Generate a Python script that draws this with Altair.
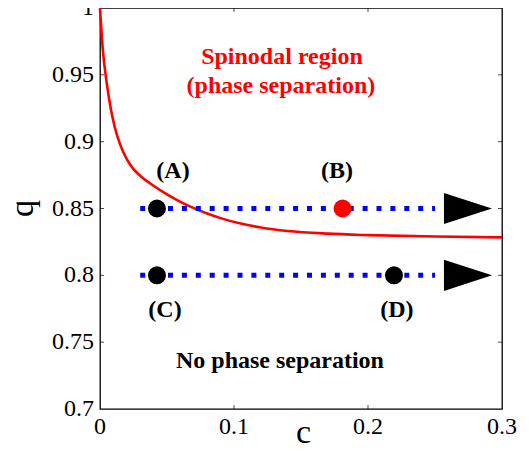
import altair as alt
import pandas as pd

# Spinodal curve (c, q)
curve_c = [0.0, 0.002, 0.005, 0.008, 0.011, 0.015, 0.02, 0.025, 0.03, 0.04, 0.05, 0.06, 0.07, 0.08, 0.09, 0.105, 0.12, 0.14, 0.17, 0.2, 0.25, 0.3]
curve_q = [1.0, 0.970, 0.944, 0.925, 0.911, 0.898, 0.887, 0.8795, 0.8745, 0.867, 0.8605, 0.855, 0.8503, 0.8463, 0.8428, 0.8387, 0.8358, 0.8332, 0.8312, 0.8301, 0.8290, 0.8284]

# Dotted paths
path_q = [0.85, 0.80]
path_c_start = [0.03, 0.03]
path_c_end = [0.25, 0.25]

# Arrow heads
arrow_c = [0.2746, 0.2746]
arrow_q = [0.85, 0.80]

# State points
pt_name = ["A", "B", "C", "D"]
pt_c = [0.0425, 0.181, 0.0425, 0.2194]
pt_q = [0.85, 0.85, 0.80, 0.80]
pt_color = ["black", "red", "black", "black"]

# Annotations
lab_text = ["(A)", "(B)", "(C)", "(D)", "No phase separation"]
lab_c = [0.0545, 0.1769, 0.0485, 0.2216, 0.1343]
lab_q = [0.8726, 0.8726, 0.7687, 0.7687, 0.7304]

red_text = ["Spinodal region", "(phase separation)"]
red_c = [0.1358, 0.135]
red_q = [0.9582, 0.9366]

# Tick labels
x_ticks = [0, 0.1, 0.2, 0.3]
x_tick_labels = ["0", "0.1", "0.2", "0.3"]
y_ticks = [0.7, 0.75, 0.8, 0.85, 0.9, 0.95, 1.0]
y_tick_labels = ["0.7", "0.75", "0.8", "0.85", "0.9", "0.95", "1"]
x_inner = [0.1, 0.2]
y_inner = [0.75, 0.8, 0.85, 0.9, 0.95]

FONT = "Liberation Serif"
W, H = 402, 401

xs = alt.Scale(domain=[0, 0.3], nice=False, zero=False)
ys = alt.Scale(domain=[0.7, 1.0], nice=False, zero=False)

xax = alt.Axis(values=x_ticks, labels=False, titleFont=FONT,
               title="c", titleX=203, titleY=33, titleBaseline="alphabetic",
               titleAlign="center")
yax = alt.Axis(values=y_ticks, labels=False, titleFont=FONT,
               title="q", titleX=-68, titleY=200, titleAngle=-90,
               titleBaseline="alphabetic", titleAlign="center")

curve_df = pd.DataFrame({"c": curve_c, "q": curve_q})
path_df = pd.DataFrame({"c": path_c_start, "c2": path_c_end, "q": path_q})
arrow_df = pd.DataFrame({"c": arrow_c, "q": arrow_q})
pt_df = pd.DataFrame({"name": pt_name, "c": pt_c, "q": pt_q, "col": pt_color})
lab_df = pd.DataFrame({"t": lab_text, "c": lab_c, "q": lab_q})
red_df = pd.DataFrame({"t": red_text, "c": red_c, "q": red_q})
xin_df = pd.DataFrame({"c": x_inner})
yin_df = pd.DataFrame({"q": y_inner})
xlab_df = pd.DataFrame({"c": x_ticks, "t": x_tick_labels})
ylab_df = pd.DataFrame({"q": y_ticks, "t": y_tick_labels})

X = lambda: alt.X("c:Q", scale=xs)
Y = lambda: alt.Y("q:Q", scale=ys)

curve = alt.Chart(curve_df).mark_line(color="#ff0000", strokeWidth=2.6, interpolate="monotone").encode(
    x=alt.X("c:Q", scale=xs, axis=xax),
    y=alt.Y("q:Q", scale=ys, axis=yax),
)

paths = alt.Chart(path_df).mark_rule(color="#0000ff", strokeWidth=5, strokeDash=[5, 8.9], strokeCap="butt").encode(
    x=X(), x2="c2:Q", y=Y()
)

arrows = alt.Chart(arrow_df).mark_point(
    shape="M-1,-0.65L1,0L-1,0.65Z", size=2304, filled=True, color="black", opacity=1, strokeWidth=0
).encode(x=X(), y=Y())

points = alt.Chart(pt_df).mark_circle(size=324, opacity=1).encode(
    x=X(), y=Y(),
    color=alt.Color("col:N", scale=None),
)

labels = alt.Chart(lab_df).mark_text(font=FONT, fontSize=24, fontWeight="bold", color="black",
                                     baseline="alphabetic", align="center").encode(
    x=X(), y=Y(), text="t:N"
)

red_labels = alt.Chart(red_df).mark_text(font=FONT, fontSize=24, fontWeight="bold", color="#ff0000",
                                         baseline="alphabetic", align="center").encode(
    x=X(), y=Y(), text="t:N"
)

xlabels = alt.Chart(xlab_df).mark_text(font=FONT, fontSize=24, fontWeight="normal", color="black",
                                       baseline="top", align="center", yOffset=6).encode(
    x=X(), y=alt.datum(0.7), text="t:N"
)
ylabels = alt.Chart(ylab_df).mark_text(font=FONT, fontSize=24, fontWeight="normal", color="black",
                                       baseline="middle", align="right", xOffset=-6).encode(
    y=Y(), x=alt.datum(0.0), text="t:N"
)

tick_bottom = alt.Chart(xin_df).mark_tick(color="black", size=4, thickness=1, orient="vertical", yOffset=-2).encode(
    x=X(), y=alt.datum(0.7)
)
tick_top = alt.Chart(xin_df).mark_tick(color="black", size=4, thickness=1, orient="vertical", yOffset=2).encode(
    x=X(), y=alt.datum(1.0)
)
tick_left = alt.Chart(yin_df).mark_tick(color="black", size=4, thickness=1, orient="horizontal", xOffset=2).encode(
    y=Y(), x=alt.datum(0.0)
)
tick_right = alt.Chart(yin_df).mark_tick(color="black", size=4, thickness=1, orient="horizontal", xOffset=-2).encode(
    y=Y(), x=alt.datum(0.3)
)

chart = alt.layer(
    curve, paths, points, arrows, labels, red_labels, xlabels, ylabels,
    tick_bottom, tick_top, tick_left, tick_right
).properties(
    width=W, height=H,
    autosize=alt.AutoSizeParams(type="none"),
    padding={"left": 92, "top": 0, "right": 19, "bottom": 40},
    background="white",
).configure_view(
    stroke="black", strokeWidth=1.3, clip=False
).configure_axis(
    ticks=False, domain=False, grid=False,
    titleFontSize=34, titleFontWeight="normal", titleColor="black",
)

chart.save("out.html", embed_options={"renderer": "svg", "actions": False})
